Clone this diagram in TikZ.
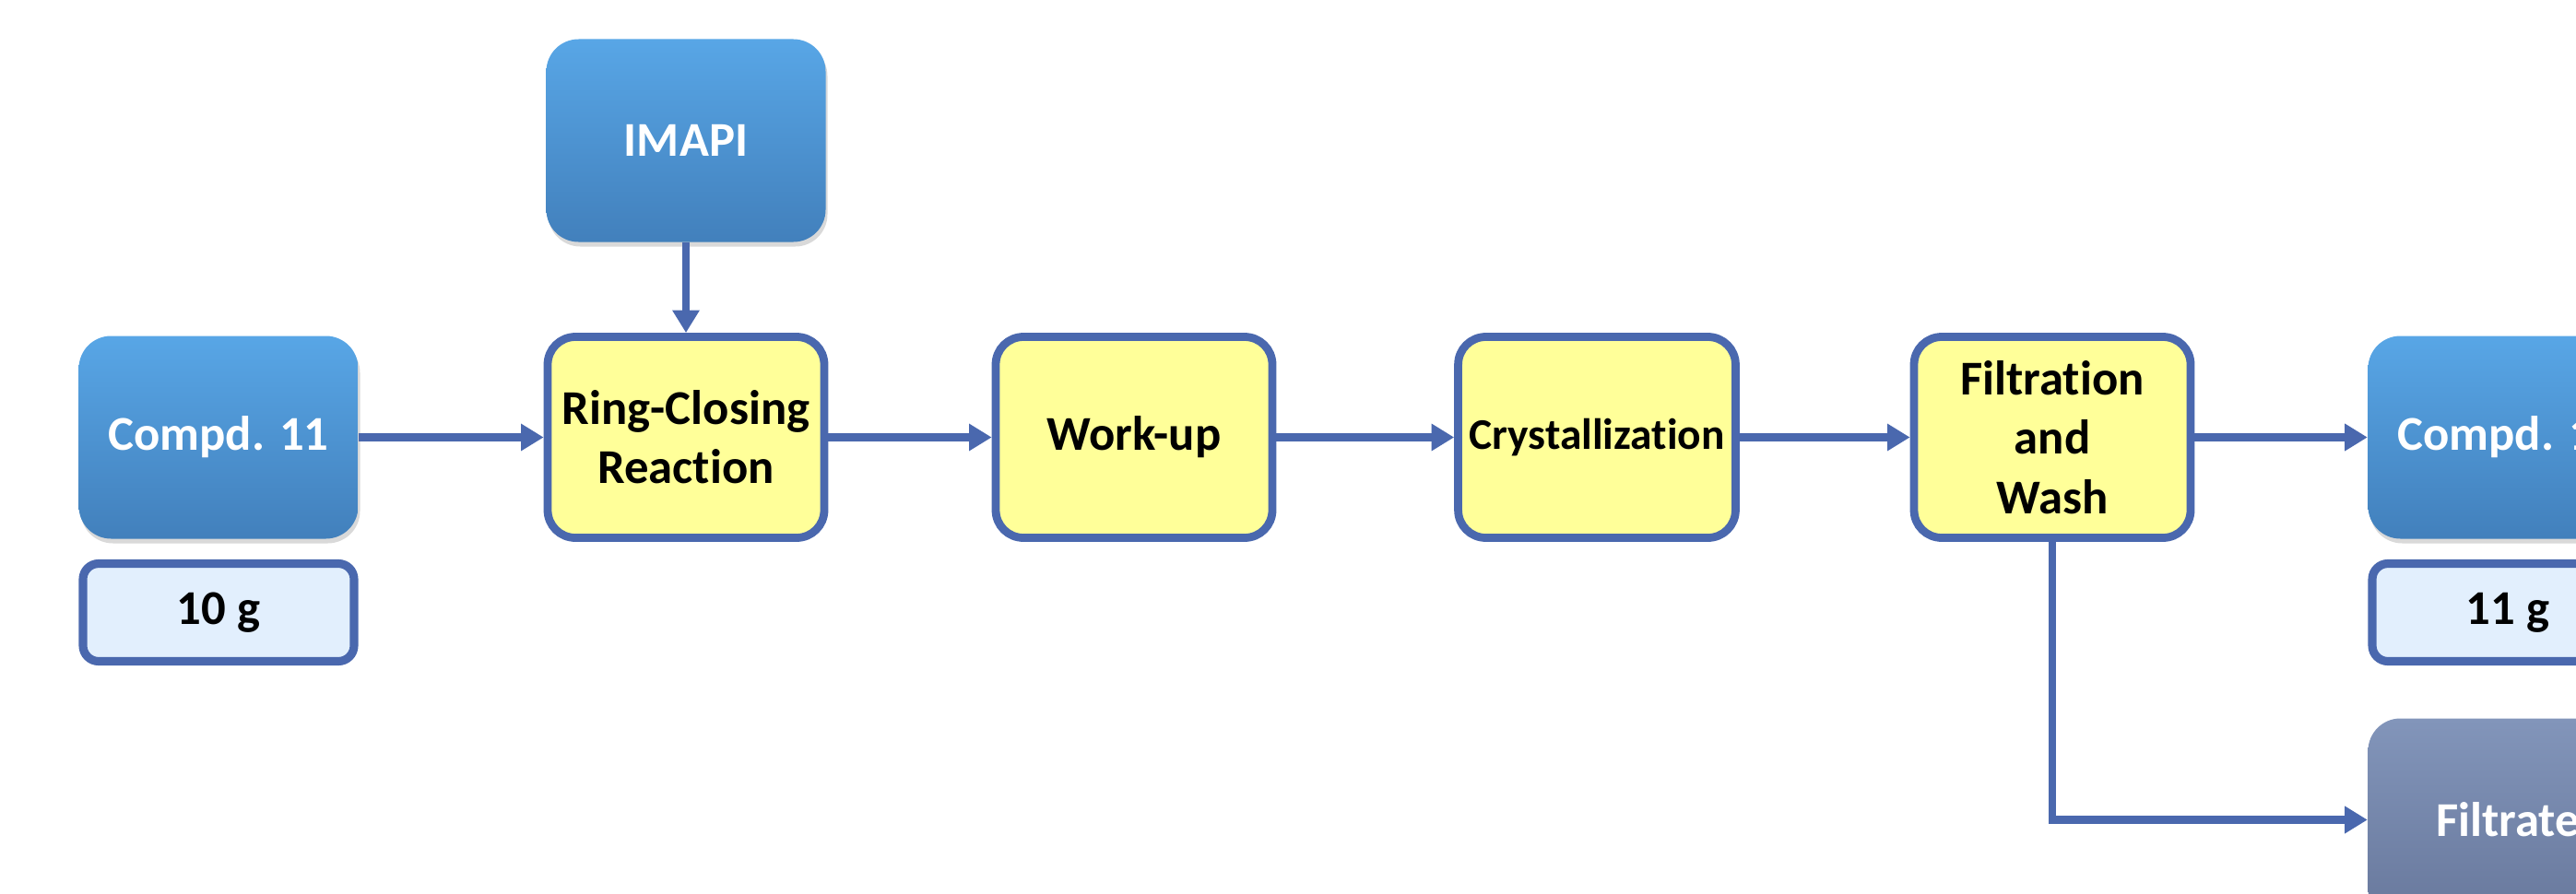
\documentclass[tikz,border=0pt]{standalone}
\usepackage{fontspec}
\setmainfont{Carlito}[Ligatures=NoCommon]
\usetikzlibrary{shapes,arrows.meta,positioning,shadows}

\definecolor{flowblue}{RGB}{74,104,174}
\definecolor{stepyellow}{RGB}{255,255,153}
\definecolor{masscyan}{RGB}{226,239,253}
\definecolor{cmpdtop}{RGB}{88,166,230}
\definecolor{cmpdbottom}{RGB}{66,128,188}
\definecolor{wastetop}{RGB}{130,149,186}
\definecolor{wastebottom}{RGB}{104,120,156}

\begin{document}
\begin{tikzpicture}[node distance=4.94cm, auto]
    % Define styles
    \tikzstyle{compound} = [rectangle, rounded corners=0.35cm, minimum width=3.03cm, minimum height=2.2cm, text centered, top color=cmpdtop, bottom color=cmpdbottom, draw=none, text=white, font=\fontsize{15}{18.3}\selectfont\bfseries, drop shadow={opacity=0.3, shadow xshift=0.02cm, shadow yshift=-0.05cm}]
    \tikzstyle{waste} = [compound, top color=wastetop, bottom color=wastebottom]
    \tikzstyle{process} = [rectangle, rounded corners=0.3cm, minimum width=3cm, minimum height=2.18cm, align=center, draw=flowblue, line width=2.5pt, fill=stepyellow, font=\fontsize{15}{18.3}\selectfont\bfseries]
    \tikzstyle{mass} = [rectangle, rounded corners=0.17cm, minimum width=2.94cm, minimum height=1.06cm, text centered, draw=flowblue, line width=2.6pt, fill=masscyan, font=\fontsize{15}{18.3}\selectfont\bfseries]
    \tikzstyle{arrow} = [line width=2.5pt, draw=flowblue, -{Triangle[length=7pt,width=8pt]}]

    \useasboundingbox (0,0) rectangle (27.94,-9.70);
    \clip (0,0) rectangle (27.94,-9.70);

    % Nodes
    \node [compound] (cmpd11) at (2.37,-4.745) {Compd. 11};
    \node [process, right of=cmpd11, xshift=0.13cm] (ring) {Ring-Closing\\Reaction};
    \node [process, right of=ring, xshift=-0.08cm] (workup) {Work-up};
    \node [process, right of=workup, xshift=0.08cm, font=\fontsize{13.5}{16}\selectfont\bfseries] (cryst) {Crystallization};
    \node [process, right of=cryst] (filtwash) {Filtration\\and\\Wash};
    \node [compound, right of=filtwash] (cmpd12) {Compd. 12};
    \node [compound, above of=ring, node distance=3.22cm] (imapi) {IMAPI};
    \node [mass, below of=cmpd11, node distance=1.9cm] (mass11) {10 g};
    \node [mass, below of=cmpd12, node distance=1.9cm] (mass12) {11 g};
    \node [waste, below of=cmpd12, node distance=4.15cm] (filtrate) {Filtrate};

    % Arrows
    \draw [arrow] (imapi) -- (ring);
    \draw [arrow] (cmpd11) -- (ring);
    \draw [arrow] (ring) -- (workup);
    \draw [arrow] (workup) -- (cryst);
    \draw [arrow] (cryst) -- (filtwash);
    \draw [arrow] (filtwash) -- (cmpd12);
    \draw [arrow] (filtwash) |- (filtrate);
\end{tikzpicture}
\end{document}
